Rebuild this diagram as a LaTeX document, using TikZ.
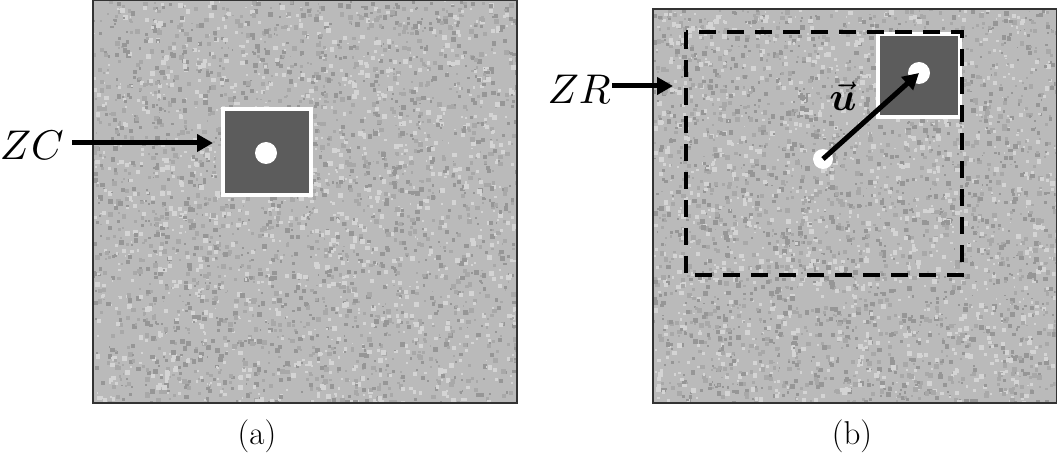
\documentclass[tikz,border=0pt]{standalone}
\usepackage{bm}
\usepackage{graphicx}
\usetikzlibrary{arrows.meta}
\definecolor{texbg}{RGB}{186,186,186}
\definecolor{texdark}{RGB}{150,150,150}
\definecolor{texmid}{RGB}{168,168,168}
\definecolor{texlight}{RGB}{212,212,212}
\definecolor{darksq}{RGB}{92,92,92}
\tikzset{
  panel/.style={draw=black!80, line width=1.2pt, fill=texbg},
  bigarrow/.style={line width=5pt, -{Triangle[length=16pt,width=17pt]}},
  lab/.style={font=\fontsize{10}{10}\selectfont, inner sep=0pt},
  captext/.style={font=\fontsize{33}{33}\selectfont, inner sep=0pt},
  dot/.style={circle, fill=white, inner sep=0pt, minimum size=#1},
  zonedash/.style={line width=4.5pt, dash pattern=on 17pt off 11pt}
}
\newcommand{\speckles}[4]{%
  \foreach \i in {1,...,3600}{
    \pgfmathsetmacro\rx{#1+rnd*#3}
    \pgfmathsetmacro\ry{#2+rnd*#4}
    \pgfmathsetmacro\rs{1.5+rnd*3.5}
    \pgfmathtruncatemacro\rc{mod(\i,3)}
    \ifcase\rc \fill[texdark] (\rx,\ry) rectangle ++(\rs,\rs);
    \or \fill[texlight] (\rx,\ry) rectangle ++(\rs,\rs);
    \else \fill[texmid] (\rx,\ry) rectangle ++(\rs,\rs); \fi
  }}
\begin{document}
\begin{tikzpicture}[x=1pt,y=-1pt]
\useasboundingbox (0,0) rectangle (1057,454);
% panels
\path[panel] (93,0.6) rectangle (517,403);
\path[panel] (653,9) rectangle (1056.4,403);
% speckle texture
\pgfmathsetseed{7}
\begin{scope}
\clip (94,1.5) rectangle (516,402);
\speckles{92}{0}{425}{403}
\end{scope}
\begin{scope}
\clip (654,10) rectangle (1055.5,402);
\speckles{652}{8}{405}{395}
\end{scope}
% panel borders again on top
\draw[draw=black!80, line width=1.2pt] (93,0.6) rectangle (517,403);
\draw[draw=black!80, line width=1.2pt] (653,9) rectangle (1056.4,403);

% ---- panel (a)
\node[draw=white, line width=4pt, fill=darksq, minimum width=88pt, minimum height=86pt, inner sep=0pt] (sqa) at (266.5,152.5) {};
\node[dot=22pt] (dota) at (266,153) {};
\node[lab, anchor=east] (zc) at (64,145) {\scalebox{4.15}{$ZC$}};
\coordinate (zcend) at (213,143);
\draw[bigarrow] (72,143) -- (zcend);

% ---- panel (b)
\node[draw=white, line width=4pt, fill=darksq, minimum width=82pt, minimum height=83pt, inner sep=0pt, anchor=north east] (sqb) at (962,32) {};
\draw[zonedash] (686,32) rectangle (962,275);
\node[dot=22pt] (dotb) at (919,73) {};
\node[dot=20pt] (dotc) at (823,159) {};
\draw[bigarrow] (dotc.center) -- (dotb.center);
\node[lab] (u) at (843,96) {\scalebox{4}{$\vec{\bm{u}}$}};
\node[lab, anchor=east] (zr) at (611,89) {\scalebox{4.15}{$ZR$}};
\coordinate (zrend) at (673,86);
\draw[bigarrow] (612,86) -- (zrend);

% captions
\node[captext] (capa) at (257,436) {(a)};
\node[captext] (capb) at (852,436) {(b)};
\end{tikzpicture}
\end{document}
